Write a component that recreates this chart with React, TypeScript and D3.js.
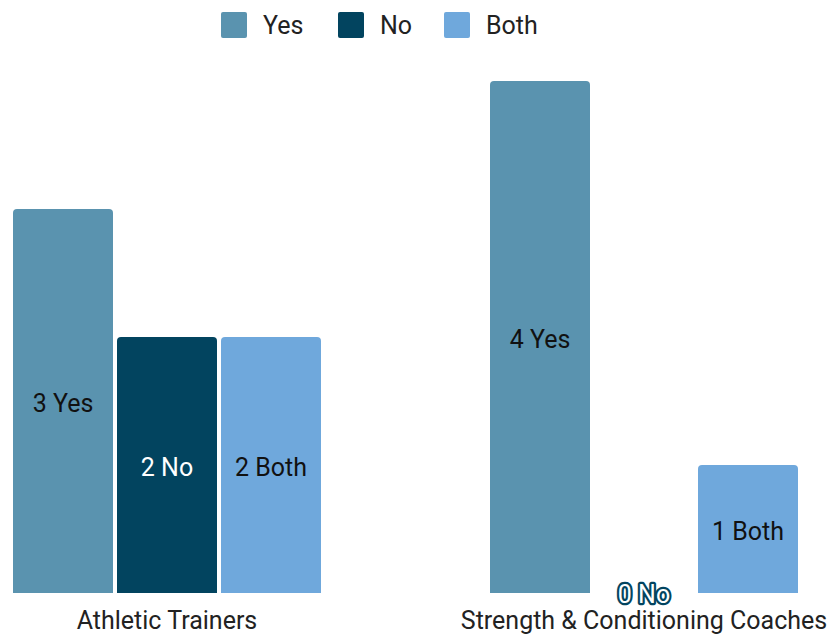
import React from "react";
import * as d3 from "d3";

const categories = ["Athletic Trainers", "Strength & Conditioning Coaches"];
const seriesNames = ["Yes", "No", "Both"];
const yesValues = [3, 4];
const noValues = [2, 0];
const bothValues = [2, 1];
const colors = ["#5a93af", "#02445f", "#6fa8dc"];
const labelColors = ["#111111", "#ffffff", "#111111"];

const W = 833;
const H = 635;
const baseY = 593;
const topY = 81;
const font = "Roboto, 'Noto Sans', sans-serif";
const fs = 25;

function topRoundedRect(x: number, y: number, w: number, h: number, r: number) {
  if (h <= 0) return "";
  const rr = Math.min(r, h, w / 2);
  return `M${x},${y + h}V${y + rr}Q${x},${y} ${x + rr},${y}H${x + w - rr}Q${x + w},${y} ${x + w},${y + rr}V${y + h}Z`;
}

export default function App() {
  const series = [yesValues, noValues, bothValues];
  const x0 = d3.scaleBand<string>().domain(categories).range([13, 798]).paddingInner(169 / 477).paddingOuter(0);
  const x1 = d3.scaleBand<string>().domain(seriesNames).range([0, x0.bandwidth()]).paddingInner(4 / 104).paddingOuter(0);
  const y = d3.scaleLinear().domain([0, 4]).range([baseY, topY]);

  const legendX = [221, 338, 444];

  return (
    <svg width={W} height={H} style={{ position: "absolute", left: 0, top: 0, background: "#fff" }}>
      <g>
        {seriesNames.map((s, i) => (
          <g key={s}>
            <rect x={legendX[i]} y={12} width={26} height={26} rx={2} fill={colors[i]} />
            <text x={legendX[i] + 42} y={25} dy="0.36em" fontFamily={font} fontSize={fs} fill="#222">{s}</text>
          </g>
        ))}
      </g>
      {categories.map((c, ci) => (
        <g key={c} transform={`translate(${x0(c)},0)`}>
          {seriesNames.map((s, si) => {
            const v = series[si][ci];
            const bx = x1(s) as number;
            const bw = x1.bandwidth();
            const by = y(v);
            const h = baseY - by;
            const label = `${v} ${s}`;
            const cy = v > 0 ? (by + baseY) / 2 + 2 : baseY + 1;
            return (
              <g key={s}>
                {v > 0 && <path d={topRoundedRect(bx, by, bw, h, 4)} fill={colors[si]} />}
                {v > 0 ? (
                  <text x={bx + bw / 2} y={cy} dy="0.36em" textAnchor="middle" fontFamily={font} fontSize={fs} fill={labelColors[si]}>{label}</text>
                ) : (
                  <text x={bx + bw / 2} y={cy} dy="0.36em" textAnchor="middle" fontFamily={font} fontSize={fs} fill="#fff" stroke={colors[si]} strokeWidth={4.5} paintOrder="stroke" strokeLinejoin="round">{label}</text>
                )}
              </g>
            );
          })}
          <text x={x0.bandwidth() / 2} y={620} dy="0.36em" textAnchor="middle" fontFamily={font} fontSize={fs} fill="#222">{c}</text>
        </g>
      ))}
    </svg>
  );
}
